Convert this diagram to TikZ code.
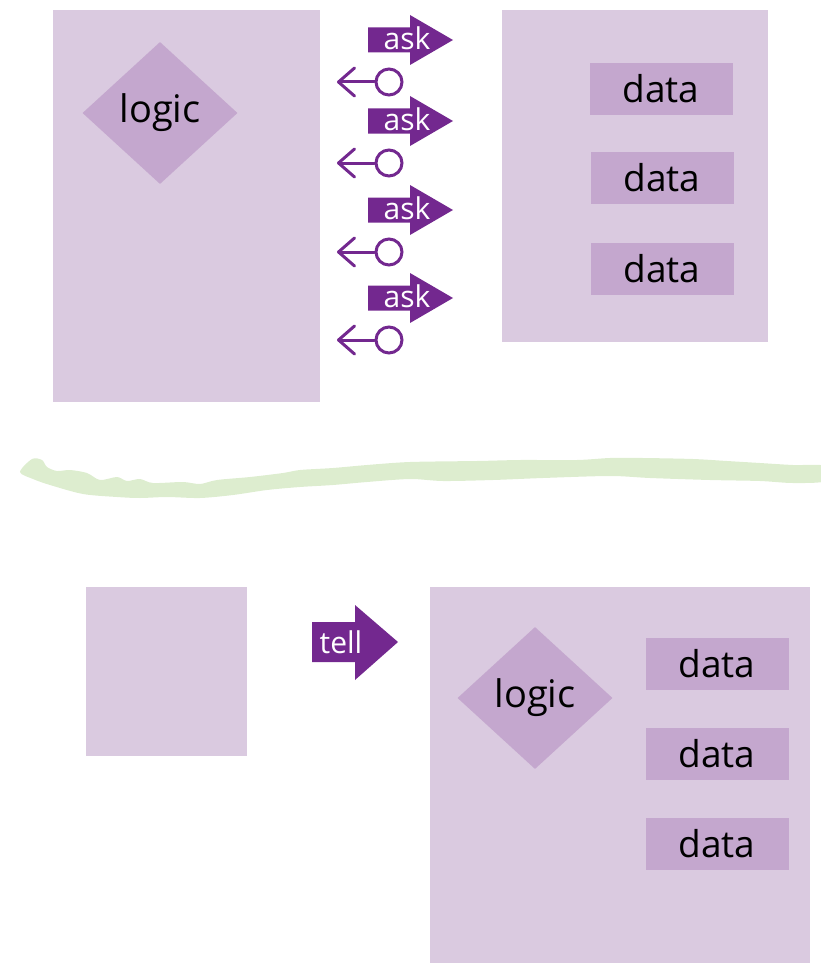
\documentclass[tikz,border=0pt]{standalone}
\usepackage{fontspec}
\setmainfont{Open Sans}
\usetikzlibrary{shapes.geometric,arrows.meta}
\definecolor{boxlilac}{HTML}{DACAE0}
\definecolor{innerlilac}{HTML}{C4A7CE}
\definecolor{askpurple}{HTML}{73288F}
\definecolor{dividergreen}{HTML}{DDEDCF}
\begin{document}
\begin{tikzpicture}[x=1pt,y=-1pt,
    databox/.style={fill=innerlilac, minimum width=143pt, minimum height=52pt, inner sep=0pt, font=\fontsize{37}{40}\selectfont},
    logicbox/.style={diamond, fill=innerlilac, minimum width=155pt, minimum height=142pt, inner sep=0pt, font=\fontsize{38}{42}\selectfont},
    asklabel/.style={text=white, inner sep=0pt, font=\fontsize{30}{33}\selectfont},
    ring/.style={circle, draw=askpurple, line width=3pt, minimum size=26pt, inner sep=0pt},
    back/.style={draw=askpurple, line width=3pt, line cap=round, -{Straight Barb[length=16pt,width=28pt,round]}}]
  \useasboundingbox (0,0) rectangle (820,963);
  % top: logic asks for the data
  \fill[boxlilac] (53,10) rectangle (320,402);
  \fill[boxlilac] (502,10) rectangle (768,342);
  \node[logicbox] (logic1) at (160,113) {logic};
  \node[databox] (data1) at (661,89) {data};
  \node[databox] (data2) at (662,178) {data};
  \node[databox] (data3) at (662,269) {data};
  \foreach \y in {40,121,210,298} {
    \fill[askpurple] (368,\y-12.5) -- (410,\y-12.5) -- (410,\y-25) -- (453,\y) -- (410,\y+25) -- (410,\y+12.5) -- (368,\y+12.5) -- cycle;
    \node[asklabel] (ask\y) at (407,\y-2) {ask};
    \node[ring] (ring\y) at (389,\y+42) {};
    \coordinate (back\y) at (337,\y+42);
    \draw[back] (ring\y.west) -- (back\y);
  }
  % divider
  \fill[dividergreen] plot[smooth cycle] coordinates {(20,472) (32,459) (42,460) (47,467) (57,471) (70,470) (87,473) (100,480) (117,477) (127,481) (140,479) (153,483) (183,482) (200,484) (217,480) (250,477) (283,473) (300,470) (333,468) (367,465) (410,462) (477,461) (520,460) (577,460) (610,458) (643,458) (693,459) (727,461) (760,463) (793,465) (826,466)
    (826,481) (793,483) (760,481) (710,480) (650,478) (610,476) (543,478) (493,480) (443,481) (410,479) (367,482) (333,485) (300,487) (267,490) (233,495) (200,498) (167,497) (140,498) (117,497) (83,494) (50,485) (33,479)};
  % bottom: tell the logic that owns the data
  \fill[boxlilac] (86,587) rectangle (247,756);
  \fill[askpurple] (312,622) -- (355,622) -- (355,605) -- (398,642) -- (355,680) -- (355,662) -- (312,662) -- cycle;
  \node[asklabel] (tell) at (341,642) {tell};
  \fill[boxlilac] (430,587) rectangle (810,963);
  \node[logicbox] (logic2) at (535,698) {logic};
  \node[databox] (data4) at (717,664) {data};
  \node[databox] (data5) at (717,754) {data};
  \node[databox] (data6) at (717,844) {data};
\end{tikzpicture}
\end{document}
